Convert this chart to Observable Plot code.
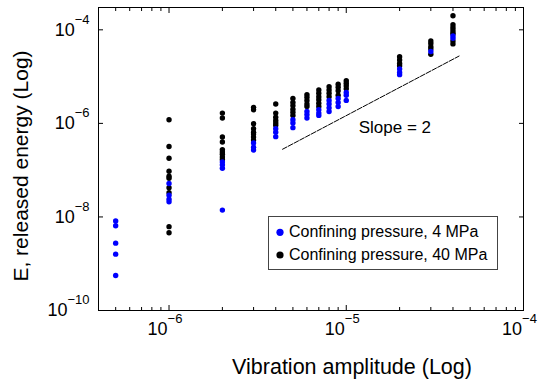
<!DOCTYPE html>
<html><head><meta charset="utf-8">
<script src="https://cdn.jsdelivr.net/npm/d3@7"></script>
<script src="https://cdn.jsdelivr.net/npm/@observablehq/plot@0.6"></script>
<style>
body{margin:0;background:#fff;font-family:"Liberation Sans",Arial,sans-serif;}
#wrap{position:relative;width:539px;height:382px;overflow:hidden;}
#legend{position:absolute;left:0;top:0;}
</style></head><body><div id="wrap"></div><script>
// Vibration amplitude columns
const amplitudes = [5e-7, 1e-6, 2e-6, 3e-6, 4e-6, 5e-6, 6e-6, 7e-6, 8e-6, 9e-6, 1e-5, 2e-5, 3e-5, 4e-5];
// Released energy, confining pressure 4 MPa (blue), one list per amplitude
const energy4MPa = [
  [8.2e-9, 6.5e-9, 2.75e-9, 1.6e-9, 5.6e-10],
  [5.2e-8, 2.9e-8, 2.4e-8, 2.1e-8],
  [1.5e-7, 1.3e-7, 1.1e-7, 1.4e-8],
  [3.8e-7, 3.1e-7, 2.7e-7],
  [7.7e-7, 6.5e-7, 5.2e-7],
  [1.2e-6, 1.02e-6, 8.1e-7],
  [1.8e-6, 1.54e-6, 1.3e-6],
  [1.95e-6, 1.66e-6, 1.48e-6],
  [3.1e-6, 2.6e-6, 2.15e-6, 1.8e-6],
  [3.4e-6, 2.8e-6, 2.3e-6],
  [4.6e-6, 4.0e-6, 3.1e-6],
  [1.45e-5, 1.23e-5, 1.1e-5],
  [3.45e-5],
  [7.4e-5, 6.6e-5]
];
// Released energy, confining pressure 40 MPa (black)
const energy40MPa = [
  [],
  [1.2e-6, 3.2e-7, 1.8e-7, 9.5e-8, 7.4e-8, 6.7e-8, 4.2e-8, 3.3e-8, 6.2e-9, 4.6e-9],
  [1.66e-6, 1.3e-6, 5.1e-7, 4.0e-7, 2.75e-7, 2.45e-7, 2.2e-7, 1.9e-7, 1.7e-7],
  [2.2e-6, 1.96e-6, 9.8e-7, 7.7e-7, 6.5e-7, 5.9e-7, 5.1e-7, 4.4e-7],
  [2.6e-6, 1.66e-6, 1.35e-6, 1.15e-6, 1.02e-6, 9.1e-7],
  [3.4e-6, 2.8e-6, 2.4e-6, 2.0e-6, 1.73e-6, 1.48e-6],
  [4.1e-6, 3.6e-6, 3.1e-6, 2.6e-6, 2.3e-6],
  [5.2e-6, 4.4e-6, 3.7e-6, 3.2e-6, 2.7e-6, 2.3e-6],
  [6.1e-6, 5.2e-6, 4.4e-6, 3.7e-6],
  [6.9e-6, 5.9e-6, 5.0e-6, 4.0e-6],
  [8.2e-6, 7.2e-6, 6.4e-6, 5.5e-6],
  [2.66e-5, 2.27e-5, 1.9e-5, 1.7e-5],
  [5.8e-5, 5.1e-5, 4.35e-5, 3.9e-5, 3.0e-5],
  [2.0e-4, 1.28e-4, 1.12e-4, 9.9e-5, 8.8e-5, 8.1e-5, 5.8e-5, 5.0e-5]
];
// Slope = 2 reference line: E = k * A^2 between two amplitudes
const slopeAmplitudes = [4.37e-6, 4.33e-5];
const slopeK = 1.466e4;
const slopeLabel = ["Slope = 2"];
const slopeLabelAt = [1.175e-5, 8.3e-7];
// Axes
const xDomain = [4e-7, 1e-4];
const yDomain = [1e-10, 3e-4];
const xMajorTicks = [1e-6, 1e-5, 1e-4];
const xMinorTicks = [5e-7,6e-7,7e-7,8e-7,9e-7,2e-6,3e-6,4e-6,5e-6,6e-6,7e-6,8e-6,9e-6,2e-5,3e-5,4e-5,5e-5,6e-5,7e-5,8e-5,9e-5];
const yMajorTicks = [1e-10, 1e-8, 1e-6, 1e-4];
const xLabel = "Vibration amplitude (Log)";
const yLabel = "E, released energy (Log)";
const legendLabels = ["Confining pressure, 4 MPa", "Confining pressure, 40 MPa"];
const seriesColors = ["#0000ff", "#000000"];

const flat = (arr) => arr.flatMap((vals, i) => vals.map(v => ({x: amplitudes[i], y: v})));
const pts4 = flat(energy4MPa);
const pts40 = flat(energy40MPa);
const slopePts = slopeAmplitudes.map(a => ({x: a, y: slopeK * a * a}));
const fmt = d => "10^" + Math.round(Math.log10(d));

const tickOpts = {fill: "none", label: null, stroke: "#000"};
const chart = Plot.plot({
  width: 539, height: 382,
  marginLeft: 98, marginRight: 16, marginTop: 7, marginBottom: 72,
  style: {fontFamily: '"Liberation Sans", Arial, sans-serif', background: "#fff", color: "#000"},
  x: {type: "log", domain: xDomain},
  y: {type: "log", domain: yDomain},
  marks: [
    Plot.axisX({...tickOpts, ticks: xMajorTicks, anchor: "bottom", tickSize: -5}),
    Plot.axisX({...tickOpts, ticks: xMinorTicks, anchor: "bottom", tickSize: -3}),
    Plot.axisX({...tickOpts, ticks: xMajorTicks, anchor: "top", tickSize: -5}),
    Plot.axisX({...tickOpts, ticks: xMinorTicks, anchor: "top", tickSize: -3}),
    Plot.axisY({...tickOpts, ticks: yMajorTicks, anchor: "left", tickSize: -5}),
    Plot.axisY({...tickOpts, ticks: yMajorTicks, anchor: "right", tickSize: -5}),
    Plot.axisX({ticks: xMajorTicks, anchor: "bottom", tickSize: 0, tickPadding: 12, tickFormat: fmt, label: null, dx: -4, fill: "#000"}),
    Plot.axisY({ticks: yMajorTicks, anchor: "left", tickSize: 0, tickPadding: 9, tickFormat: fmt, label: null, fill: "#000"}),
    Plot.frame({stroke: "#000", strokeWidth: 1}),
    Plot.line(slopePts, {x: "x", y: "y", stroke: "#000", strokeWidth: 1, strokeDasharray: "5,1.5"}),
    Plot.text(slopeLabel, {x: () => slopeLabelAt[0], y: () => slopeLabelAt[1], text: d => d, textAnchor: "start", lineAnchor: "middle", fontSize: 17, fill: "#000"}),
    Plot.dot(pts40, {x: "x", y: "y", r: 2.7, fill: seriesColors[1], stroke: null}),
    Plot.dot(pts4, {x: "x", y: "y", r: 2.7, fill: seriesColors[0], stroke: null}),
    Plot.text([xLabel], {frameAnchor: "bottom", textAnchor: "middle", lineAnchor: "middle", dx: 41, dy: 56.6, fontSize: 21.5, fill: "#000"}),
    Plot.text([yLabel], {frameAnchor: "left", textAnchor: "middle", lineAnchor: "middle", rotate: -90, dx: -77.5, dy: 7, fontSize: 21, fill: "#000"})
  ]
});

// superscript exponents in tick labels
d3.select(chart).selectAll("text").each(function() {
  const t = this.textContent;
  const m = /^10\^(-?\d+)$/.exec(t);
  if (!m) return;
  const sel = d3.select(this);
  sel.text(null).attr("font-size", 18);
  sel.append("tspan").text("10");
  sel.append("tspan").attr("font-size", 13).attr("dy", -12).text(m[1].replace("-", "\u2212"));
});

const wrap = document.getElementById("wrap");
wrap.appendChild(chart);

// legend overlay (inside plot area)
const lg = d3.select(wrap).append("svg").attr("id", "legend").attr("width", 539).attr("height", 382)
  .style("font-family", '"Liberation Sans", Arial, sans-serif');
lg.append("rect").attr("x", 268.5).attr("y", 216.5).attr("width", 229).attr("height", 53)
  .attr("fill", "#fff").attr("stroke", "#444").attr("stroke-width", 1);
legendLabels.forEach((lab, i) => {
  const base = 237.3 + i * 22.7;
  lg.append("circle").attr("cx", 280).attr("cy", base - 5).attr("r", 3.6).attr("fill", seriesColors[i]);
  lg.append("text").attr("x", 289).attr("y", base).attr("font-size", 16).attr("fill", "#000").text(lab);
});
</script></body></html>
